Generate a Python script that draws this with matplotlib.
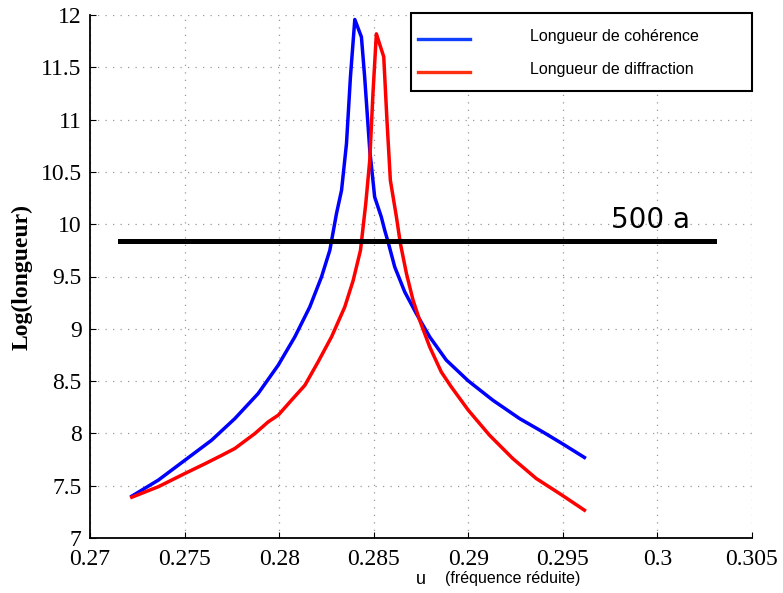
import matplotlib
matplotlib.use("Agg")
import matplotlib.pyplot as plt
from matplotlib.lines import Line2D
from matplotlib.patches import Rectangle

# coherence length (blue)
coh_u = [0.27221, 0.27361, 0.27502, 0.27643, 0.27766, 0.27889, 0.27995,
         0.28083, 0.28162, 0.28224, 0.28268, 0.28303, 0.28330, 0.28356,
         0.28377, 0.28400, 0.28435, 0.28452, 0.28479, 0.28505, 0.28540,
         0.28558, 0.28576, 0.28611, 0.28664, 0.28725, 0.28796, 0.28884,
         0.29000, 0.29130, 0.29271, 0.29394, 0.29496, 0.29614]
coh_log = [7.40, 7.553, 7.744, 7.935, 8.142, 8.381, 8.652,
           8.923, 9.209, 9.496, 9.751, 10.10, 10.325, 10.77,
           11.41, 11.957, 11.79, 11.41, 10.71, 10.26, 10.07,
           9.943, 9.83, 9.592, 9.353, 9.146, 8.923, 8.70,
           8.502, 8.317, 8.142, 8.014, 7.903, 7.77]

# diffraction length (red)
dif_u = [0.27221, 0.27361, 0.27502, 0.27608, 0.27696, 0.27766, 0.27872,
         0.27942, 0.27995, 0.28065, 0.28136, 0.28206, 0.28277, 0.28347,
         0.28391, 0.28430, 0.28458, 0.28479, 0.28496, 0.28514, 0.28553,
         0.28570, 0.28588, 0.28620, 0.28641, 0.28673, 0.28708, 0.28743,
         0.28796, 0.28857, 0.28910, 0.29000, 0.29112, 0.29235, 0.29359,
         0.29496, 0.29614]
dif_log = [7.39, 7.49, 7.617, 7.71, 7.79, 7.856, 7.999,
           8.11, 8.174, 8.317, 8.46, 8.684, 8.923, 9.209,
           9.46, 9.75, 10.198, 10.61, 11.25, 11.82, 11.60,
           10.994, 10.42, 10.07, 9.815, 9.529, 9.273, 9.082,
           8.827, 8.588, 8.445, 8.222, 7.983, 7.76, 7.569,
           7.409, 7.266]

# 500 a level
level_u = [0.2716, 0.3030]
level_log = 9.84
level_text = "500 a"

xticks = [0.27, 0.275, 0.28, 0.285, 0.29, 0.295, 0.3, 0.305]
xticklabels = ["0.27", "0.275", "0.28", "0.285", "0.29", "0.295", "0.3", "0.305"]
yticks = [7, 7.5, 8, 8.5, 9, 9.5, 10, 10.5, 11, 11.5, 12]
yticklabels = ["7", "7.5", "8", "8.5", "9", "9.5", "10", "10.5", "11", "11.5", "12"]

legend_labels = ["Longueur de cohérence", "Longueur de diffraction"]

W, H = 783, 593
fig = plt.figure(figsize=(W / 100, H / 100), dpi=100)
ax = fig.add_axes([90 / W, 1 - 538 / H, (752 - 90) / W, (538 - 15) / H])

ax.plot(coh_u, coh_log, color="#0000ff", lw=2.5, solid_joinstyle="round")
ax.plot(dif_u, dif_log, color="#ff0000", lw=2.5, solid_joinstyle="round")
ax.plot(level_u, [level_log, level_log], color="black", lw=3.6, clip_on=False)
ax.text(0.29755, 9.965, level_text, fontsize=20, family="DejaVu Sans",
        ha="left", va="baseline")

ax.set_xlim(0.27, 0.305)
ax.set_ylim(7, 12)
ax.set_xticks(xticks)
ax.set_xticklabels(xticklabels, family="Liberation Serif", fontsize=17)
ax.set_yticks(yticks)
ax.set_yticklabels(yticklabels, family="Liberation Serif", fontsize=17)
ax.tick_params(direction="in", length=4, width=0.8, pad=6)
ax.tick_params(axis="x", pad=8)

ax.grid(True, color="#999999", linestyle=(0, (1, 5)), linewidth=0.9)
for side in ["top", "right"]:
    ax.spines[side].set_visible(False)
for side in ["left", "bottom"]:
    ax.spines[side].set_linewidth(1.3)

ax.set_ylabel("Log(longueur)", family="Liberation Serif", fontsize=17,
              fontweight="bold", labelpad=6)

# x label: "u" plus smaller description
fig.text(421 / W, 1 - 580 / H, "u", family="Liberation Sans", fontsize=13,
         ha="center", va="center")
fig.text(445 / W, 1 - 579 / H, "(fréquence réduite)", family="Liberation Sans",
         fontsize=11.5, ha="left", va="center")

# legend box drawn by hand
fig.add_artist(Rectangle((411 / W, 1 - 91 / H), (752 - 411) / W, (91 - 13) / H,
                         transform=fig.transFigure, facecolor="white",
                         edgecolor="black", lw=1.5, zorder=5))
leg_colors = ["#1040ff", "#ff3010"]
for i, (lab, col) in enumerate(zip(legend_labels, leg_colors)):
    yy = 1 - (39 + 33 * i) / H
    fig.add_artist(Line2D([418 / W, 470 / W], [yy, yy], color=col, lw=2.4,
                          transform=fig.transFigure, zorder=6))
    fig.text(530 / W, yy + 0.004, lab, family="Liberation Sans", fontsize=11.5,
             ha="left", va="center", zorder=6)

fig.savefig("out.png", dpi=100)
